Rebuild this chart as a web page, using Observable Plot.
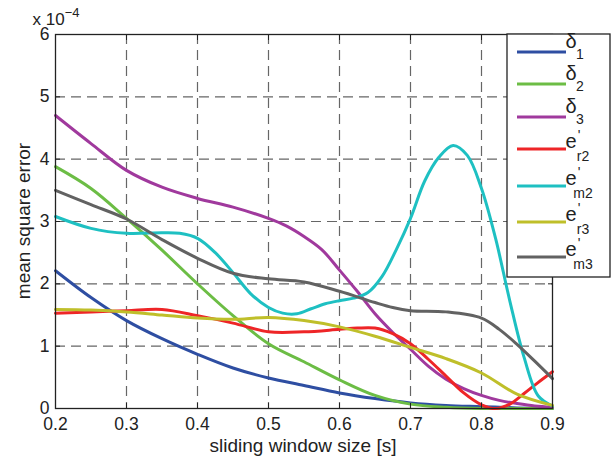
<!DOCTYPE html>
<html><head><meta charset="utf-8">
<script src="https://cdn.jsdelivr.net/npm/d3@7"></script>
<script src="https://cdn.jsdelivr.net/npm/@observablehq/plot@0.6"></script>
<style>body{margin:0;background:#fff}#chart{width:615px;height:456px}</style>
</head><body><div id="chart"></div>
<script>
// ---- data (mean square error, in units of 1e-4) ----
const xTicks = [0.2, 0.3, 0.4, 0.5, 0.6, 0.7, 0.8, 0.9];
const yTicks = [0, 1, 2, 3, 4, 5, 6];
const seriesKeys = ["d1", "d2", "d3", "er2", "em2", "er3", "em3"];

const x05 = [0.2, 0.25, 0.3, 0.35, 0.4, 0.45, 0.5, 0.55, 0.6, 0.65, 0.7, 0.75, 0.8, 0.85, 0.9];
const delta1 = [2.21, 1.78, 1.41, 1.12, 0.87, 0.65, 0.49, 0.37, 0.25, 0.16, 0.09, 0.05, 0.03, 0.01, 0.0];
const delta2 = [3.88, 3.53, 3.05, 2.54, 2.0, 1.49, 1.04, 0.75, 0.46, 0.21, 0.07, 0.02, 0.0, 0.0, 0.0];

const xDelta3 = [0.2, 0.25, 0.3, 0.35, 0.4, 0.45, 0.5, 0.525, 0.55, 0.575, 0.6, 0.625, 0.65, 0.675, 0.7, 0.725, 0.75, 0.775, 0.8, 0.825, 0.85, 0.875, 0.9];
const delta3 = [4.7, 4.25, 3.82, 3.55, 3.37, 3.23, 3.05, 2.93, 2.76, 2.55, 2.22, 1.88, 1.52, 1.22, 0.95, 0.68, 0.47, 0.32, 0.21, 0.13, 0.08, 0.04, 0.02];

const xEr2 = [0.2, 0.25, 0.3, 0.35, 0.4, 0.45, 0.5, 0.55, 0.6, 0.625, 0.65, 0.675, 0.7, 0.725, 0.75, 0.775, 0.8, 0.82, 0.84, 0.86, 0.88, 0.9];
const er2 = [1.53, 1.55, 1.57, 1.59, 1.49, 1.37, 1.23, 1.23, 1.27, 1.29, 1.29, 1.2, 1.04, 0.79, 0.52, 0.25, 0.06, 0.0, 0.07, 0.24, 0.42, 0.59];

const xEm2 = [0.2, 0.25, 0.3, 0.35, 0.375, 0.4, 0.425, 0.45, 0.475, 0.5, 0.52, 0.54, 0.56, 0.58, 0.6, 0.62, 0.64, 0.66, 0.68, 0.7, 0.72, 0.74, 0.76, 0.78, 0.8, 0.82, 0.84, 0.86, 0.88, 0.9];
const em2 = [3.08, 2.89, 2.81, 2.82, 2.81, 2.73, 2.5, 2.18, 1.84, 1.62, 1.53, 1.52, 1.6, 1.68, 1.73, 1.77, 1.86, 2.12, 2.55, 3.05, 3.65, 4.03, 4.22, 4.06, 3.53, 2.72, 1.72, 0.82, 0.2, 0.04];

const er3 = [1.59, 1.58, 1.55, 1.5, 1.45, 1.43, 1.46, 1.41, 1.31, 1.16, 0.98, 0.8, 0.57, 0.23, 0.05];

const xEm3 = [0.2, 0.25, 0.3, 0.35, 0.4, 0.45, 0.5, 0.55, 0.6, 0.65, 0.675, 0.7, 0.75, 0.8, 0.825, 0.85, 0.875, 0.9];
const em3 = [3.5, 3.27, 3.04, 2.71, 2.41, 2.17, 2.08, 2.03, 1.88, 1.7, 1.62, 1.57, 1.55, 1.45, 1.27, 1.03, 0.76, 0.48];

// ---- styling ----
const seriesColors = ["#2e4ea2", "#6cbd45", "#a0399d", "#ee2527", "#1ec0c2", "#bfbf2a", "#626262"];

const seriesX = [x05, x05, xDelta3, xEr2, xEm2, x05, xEm3];
const seriesY = [delta1, delta2, delta3, er2, em2, er3, em3];

const rows = [];
seriesKeys.forEach((k, i) => seriesX[i].forEach((x, j) => rows.push({series: k, x, y: seriesY[i][j]})));

const font = "'Liberation Sans', Arial, Helvetica, sans-serif";
const blank = () => "";

const lineMarks = seriesKeys.map((k, i) =>
  Plot.line(rows.filter(r => r.series === k), {x: "x", y: "y", stroke: seriesColors[i], strokeWidth: 3, curve: "catmull-rom"})
);

const chart = Plot.plot({
  width: 615, height: 456,
  marginLeft: 55, marginRight: 63, marginTop: 34, marginBottom: 48,
  style: {fontFamily: font, fontSize: "17.5px", background: "white", color: "#222"},
  x: {domain: [0.2, 0.9], label: null},
  y: {domain: [0, 6], label: null},
  marks: [
    Plot.gridX(xTicks.slice(1, -1), {stroke: "#666", strokeOpacity: 1, strokeWidth: 1.2, strokeDasharray: "10,6"}),
    Plot.gridY(yTicks.slice(1, -1), {stroke: "#666", strokeOpacity: 1, strokeWidth: 1.2, strokeDasharray: "10,6"}),
    ...lineMarks,
    Plot.frame({stroke: "#222", strokeWidth: 1.3}),
    Plot.axisX(xTicks, {anchor: "bottom", tickSize: -5, tickPadding: 14, tickFormat: d3.format(".1f"), label: null, fontSize: 17.5}),
    Plot.axisX(xTicks, {anchor: "top", tickSize: -5, tickFormat: blank, label: null}),
    Plot.axisY(yTicks, {anchor: "left", tickSize: -5, tickPadding: 11, tickFormat: d3.format("d"), label: null, fontSize: 17.5}),
    Plot.axisY(yTicks, {anchor: "right", tickSize: -5, tickFormat: blank, label: null})
  ]
});

const svg = d3.select(chart);
// axis titles
svg.append("text").attr("x", 303).attr("y", 452).attr("text-anchor", "middle")
  .attr("font-size", 19).attr("font-family", font).attr("fill", "#222").text("sliding window size [s]");
svg.append("text").attr("transform", "translate(30,221) rotate(-90)").attr("text-anchor", "middle")
  .attr("font-size", 19).attr("font-family", font).attr("fill", "#222").text("mean square error");
// exponent
const ex = svg.append("text").attr("x", 56).attr("y", 25).attr("font-size", 17).attr("font-family", font).attr("fill", "#222");
ex.append("tspan").text("x 10");
ex.append("tspan").attr("dy", -8).attr("font-size", 13).text("\u22124");

// legend
const leg = svg.append("g").attr("font-family", font).attr("fill", "#222");
leg.append("rect").attr("x", 507).attr("y", 34).attr("width", 103).attr("height", 243)
  .attr("fill", "white").attr("stroke", "#222").attr("stroke-width", 1.3);
const legendY = [52, 84, 117, 149, 186, 222, 257];
const legendMain = ["\u03b4", "\u03b4", "\u03b4", "e", "e", "e", "e"];
const legendSub = ["1", "2", "3", "r2", "m2", "r3", "m3"];
seriesKeys.forEach((k, i) => {
  const y = legendY[i];
  leg.append("line").attr("x1", 517).attr("x2", 566).attr("y1", y).attr("y2", y)
    .attr("stroke", seriesColors[i]).attr("stroke-width", 3);
  const isDelta = i < 3;
  leg.append("text").attr("x", 571).attr("y", isDelta ? y - 4 : y - 1).attr("font-size", 20).text(legendMain[i]);
  if (!isDelta) leg.append("text").attr("x", 579).attr("y", y - 9).attr("font-size", 14).text("'");
  leg.append("text").attr("x", isDelta ? 580 : 583).attr("y", isDelta ? y + 7 : y + 12).attr("font-size", 14).text(legendSub[i]);
});

document.getElementById("chart").appendChild(chart);
</script>
</body></html>
